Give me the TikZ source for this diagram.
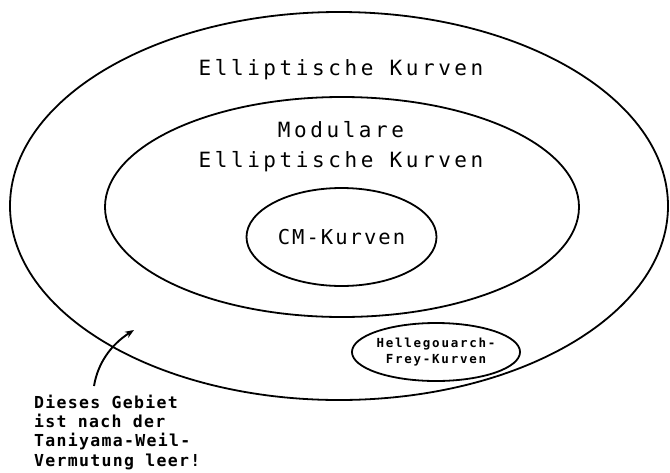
\documentclass[tikz,border=0pt]{standalone}
\usepackage{fontspec}
\usetikzlibrary{shapes.geometric,arrows.meta}
\newfontfamily\bigplot[LetterSpace=17]{DejaVu Sans Mono}
\newfontfamily\cmplot[LetterSpace=10]{DejaVu Sans Mono}
\newfontfamily\noteplot[LetterSpace=8]{DejaVu Sans Mono}
\newfontfamily\hfplot[LetterSpace=14]{DejaVu Sans Mono}
\tikzset{
  set/.style={draw=black, line width=1.8pt, ellipse, inner sep=0pt},
  bigtext/.style={font={\bigplot\fontsize{21}{29.4}\selectfont}, inner sep=0pt, align=center},
  cmtext/.style={font={\cmplot\fontsize{20.5}{24}\selectfont}},
  hftext/.style={font={\hfplot\bfseries\fontsize{12.5}{16.7}\selectfont}, align=center},
  notetext/.style={font={\noteplot\bfseries\fontsize{16.5}{19.2}\selectfont}, align=left, inner sep=0pt},
  pointer/.style={line width=1.9pt, -{Stealth[length=9pt,width=7pt]}}
}
\begin{document}
\begin{tikzpicture}[x=1pt,y=-1pt]
\useasboundingbox[fill=white] (0,0) rectangle (670,472);
% sets
\node[set, minimum width=658pt, minimum height=388pt] (ek) at (339,206) {};
\node[set, minimum width=474pt, minimum height=220pt] (mek) at (342,207) {};
\node[set, cmtext, minimum width=190pt, minimum height=98pt] (cm) at (341.5,237) {CM-Kurven};
\node[set, hftext, minimum width=162pt, minimum height=58pt] (hf) at (436,352) {Hellegouarch-\\Frey-Kurven};
% labels
\node[bigtext, anchor=base] (ekl) at (341,75) {Elliptische Kurven};
\node[bigtext, anchor=base] (mekl) at (341,167) {Modulare\\Elliptische Kurven};
% note
\node[notetext, anchor=base west] (note) at (34,466) {Dieses Gebiet\\ist nach der\\Taniyama-Weil-\\Vermutung leer!};
\coordinate (astart) at (94,386);
\coordinate (atip) at (134,330);
\draw[pointer] (astart) .. controls (98,362) and (112,344) .. (atip);
\end{tikzpicture}
\end{document}
